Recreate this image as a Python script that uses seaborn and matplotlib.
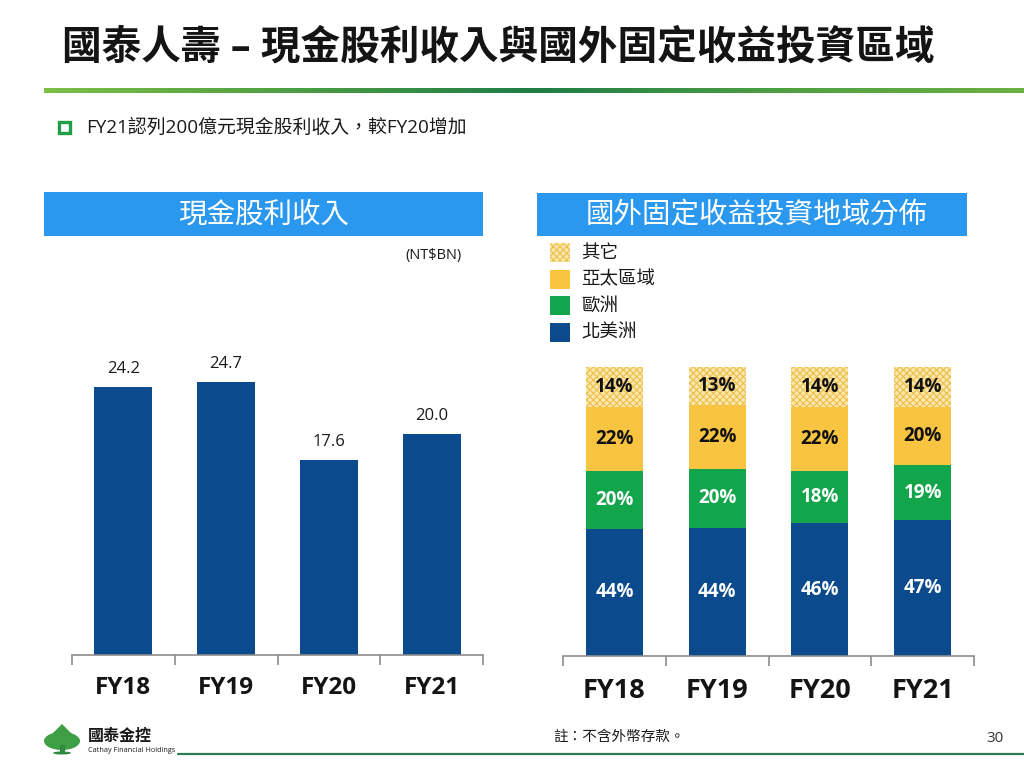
import numpy as np
import matplotlib
matplotlib.use('Agg')
import matplotlib.pyplot as plt
import seaborn as sns
from matplotlib.patches import Rectangle, Ellipse, Polygon
from matplotlib.colors import LinearSegmentedColormap

# ---------------- data ----------------
years = ['FY18', 'FY19', 'FY20', 'FY21']
dividend = [24.2, 24.7, 17.6, 20.0]          # NT$BN
north_america = [44, 44, 46, 47]             # %
europe = [20, 20, 18, 19]
asia_pacific = [22, 22, 22, 20]
others = [14, 13, 14, 14]
region_names = ['北美洲', '歐洲', '亞太區域', '其它']

title = '國泰人壽 – 現金股利收入與國外固定收益投資區域'
bullet = 'FY21認列200億元現金股利收入，較FY20增加'
left_header = '現金股利收入'
right_header = '國外固定收益投資地域分佈'
unit = '(NT$BN)'
note = '註：不含外幣存款。'
page = '30'

# ---------------- style ----------------
sns.set_theme(style='white')
plt.rcParams['font.family'] = ['Open Sans', 'Noto Sans CJK TC', 'DejaVu Sans']
plt.rcParams['hatch.linewidth'] = 0.8
CJK = ['Noto Sans CJK TC', 'DejaVu Sans']
MIX = ['Open Sans', 'Noto Sans CJK TC', 'DejaVu Sans']

BLUE = '#0B4A8C'
GREEN = '#13A54B'
YELLOW = '#F8C441'
PALE = '#FBE8AC'
HATCHC = '#EDBE4C'
HEADER = '#2A98EE'
AXISC = '#8C8C8C'

W, H = 1024, 768
fig = plt.figure(figsize=(10.24, 7.68), dpi=100)

# background axes in pixel coordinates for decorations
bg = fig.add_axes([0, 0, 1, 1], zorder=-1)
bg.set_xlim(0, W)
bg.set_ylim(H, 0)
bg.axis('off')

# title
bg.text(62, 48, title, fontsize=28.5, fontweight='bold', color='#141414',
        va='center', ha='left', family=MIX)
# gradient line
cmap = LinearSegmentedColormap.from_list('g', ['#7DBF47', '#4E9E43', '#1E7C46', '#4FA043', '#6BB042'])
grad = np.linspace(0, 1, 512).reshape(1, -1)
bg.imshow(grad, cmap=cmap, extent=[44, 1024, 93.5, 88.5], aspect='auto', zorder=1)
bg.set_xlim(0, W)
bg.set_ylim(H, 0)

# bullet
bg.add_patch(Rectangle((58.5, 121.5), 11.5, 11.5, facecolor='none', edgecolor='#1E9E48', lw=2.4))
bg.text(86, 128, bullet, fontsize=13.6, color='#1A1A1A', va='center', ha='left', family=MIX)

# header boxes
bg.add_patch(Rectangle((44, 192), 439, 44, facecolor=HEADER, edgecolor='none'))
bg.text(263.5, 215, left_header, fontsize=20.5, color='white', ha='center', va='center', family=CJK)
bg.add_patch(Rectangle((537, 193), 430, 43, facecolor=HEADER, edgecolor='none'))
bg.text(757, 215, right_header, fontsize=20.5, color='white', ha='center', va='center', family=CJK)

# unit
bg.text(433, 256, unit, fontsize=10.5, color='#1A1A1A', ha='center', va='center')

# legend (top to bottom)
leg_items = [(region_names[3], PALE, 'xxxxx'), (region_names[2], YELLOW, None),
             (region_names[1], GREEN, None), (region_names[0], BLUE, None)]
for i, (name, col, hatch) in enumerate(leg_items):
    yc = 252.5 + i * 26.5
    bg.add_patch(Rectangle((550, yc - 9.5), 20, 19, facecolor=col,
                           edgecolor=HATCHC if hatch else 'none', lw=0, hatch=hatch))
    bg.text(581, yc, name, fontsize=13.3, color='#1A1A1A', ha='left', va='center', family=CJK)

# footer
bg.plot([178, 1024], [754, 754], color='#2F7D52', lw=1.6)
bg.text(553, 737, note, fontsize=10.5, color='#1A1A1A', ha='left', va='center', family=CJK)
bg.text(1004, 738, page, fontsize=11, color='#333333', ha='right', va='center')
# logo
bg.add_patch(Ellipse((62, 741), 36, 18, facecolor='#3E9F45', edgecolor='none'))
bg.add_patch(Polygon([[48, 738], [62, 724], [76, 738]], closed=True, facecolor='#3E9F45', edgecolor='none'))
bg.add_patch(Rectangle((59.5, 745), 5, 8, facecolor='#2F8A3C', edgecolor='none'))
bg.add_patch(Ellipse((62, 753), 18, 3, facecolor='#2F8A3C', edgecolor='none'))
bg.text(88, 736, '國泰金控', fontsize=11.5, fontweight='bold', color='#1A1A1A', ha='left', va='center', family=CJK)
bg.text(88, 751, 'Cathay Financial Holdings', fontsize=5.2, color='#1A1A1A', ha='left', va='center')


def style_axis(ax):
    for s in ['left', 'top', 'right']:
        ax.spines[s].set_visible(False)
    ax.spines['bottom'].set_color(AXISC)
    ax.spines['bottom'].set_linewidth(1.2)
    ax.set_xlim(-0.5, 3.5)
    ax.set_yticks([])
    ax.set_xlabel('')
    ax.set_ylabel('')
    ax.set_facecolor('none')
    ax.set_xticks([-0.5, 0.5, 1.5, 2.5, 3.5], minor=True)
    ax.tick_params(axis='x', which='minor', bottom=True, length=7, width=1.2,
                   color=AXISC, direction='out')


# ---------------- left chart ----------------
ax1 = fig.add_axes([72 / W, 1 - 655 / H, 411 / W, 332 / H])
sns.barplot(x=years, y=dividend, ax=ax1, color=BLUE, saturation=1,
            width=0.565, errorbar=None, linewidth=0)
ax1.set_ylim(0, 30)
style_axis(ax1)
ax1.set_xticks(range(len(years)))
ax1.set_xticklabels(years, fontsize=17.5, fontweight='bold', color='#141414')
ax1.tick_params(axis='x', which='major', length=0, pad=15)
for i, v in enumerate(dividend):
    ax1.annotate(f'{v:.1f}', (i, v), xytext=(0, 13), textcoords='offset points',
                 ha='center', va='center', fontsize=12, color='#1A1A1A')

# ---------------- right chart ----------------
ax2 = fig.add_axes([563 / W, 1 - 656 / H, 411 / W, 289 / H])
layers = [
    (north_america, BLUE, None, 'white'),
    (europe, GREEN, None, 'white'),
    (asia_pacific, YELLOW, None, '#111111'),
    (others, PALE, 'xxxxx', '#111111'),
]
totals = np.array(north_america) + np.array(europe) + np.array(asia_pacific) + np.array(others)
bottom = np.zeros(len(years))
for vals, col, hatch, tcol in layers:
    share = np.array(vals) / totals * 100
    kws = dict(x=years, y=share, ax=ax2, color=col, saturation=1, width=0.555,
               errorbar=None, bottom=bottom)
    if hatch:
        kws.update(hatch=hatch, edgecolor=HATCHC, linewidth=0)
    else:
        kws.update(linewidth=0)
    sns.barplot(**kws)
    for i in range(len(years)):
        ax2.text(i, bottom[i] + share[i] / 2, f'{vals[i]}%', ha='center', va='center',
                 fontsize=13.5, fontweight='bold', color=tcol)
    bottom = bottom + share
ax2.set_ylim(0, 100)
style_axis(ax2)
ax2.set_xticks(range(len(years)))
ax2.set_xticklabels(years, fontsize=19.5, fontweight='bold', color='#141414')
ax2.tick_params(axis='x', which='major', length=0, pad=16)

fig.savefig('out.png', dpi=100)
